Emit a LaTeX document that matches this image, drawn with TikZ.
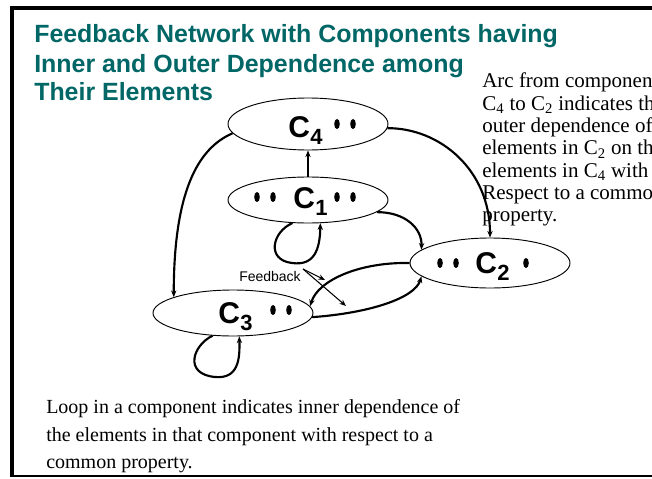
\documentclass[tikz,border=0pt]{standalone}
\usepackage{fontspec}
\setmainfont{Liberation Serif}
\setsansfont{Liberation Sans}
\usetikzlibrary{shapes.geometric,arrows.meta}
\definecolor{titlecol}{RGB}{0,102,102}
\newcommand\complabel[1]{C\kern0.3pt\raisebox{-5.5pt}{\fontsize{16.5}{16.5}\selectfont #1}}
\tikzset{
  comp/.style={ellipse, draw, line width=0.7pt, minimum width=120pt, inner sep=0pt},
  clabel/.style={anchor=base west, inner sep=0pt, font=\sffamily\bfseries\fontsize{22.5}{22.5}\selectfont},
  titleline/.style={anchor=base west, inner sep=0pt, text=titlecol, font=\sffamily\bfseries\fontsize{18.7}{18.7}\selectfont},
  noteline/.style={anchor=base west, inner sep=0pt, font=\fontsize{15.75}{15.75}\selectfont},
  bottomline/.style={anchor=base west, inner sep=0pt, font=\fontsize{15}{15}\selectfont},
  arc/.style={line width=1.6pt, -{Stealth[length=5pt,width=4pt]}},
  thinarc/.style={line width=0.8pt, -{Stealth[length=5pt,width=4pt]}},
  elemdot/.style={fill=black, draw=none},
}
\begin{document}
\begin{tikzpicture}[x=0.75pt,y=-0.75pt]
\useasboundingbox (0,0) rectangle (652,478);
\clip (0,0) rectangle (652,478);
\fill[white] (0,0) rectangle (652,478);
% frame
\draw[line width=3pt] (12,6) -- (12,477);
\draw[line width=3pt] (10,8) -- (660,8);
\draw[line width=1.5pt] (12,476) -- (660,476);

% title
\node[titleline] (t1) at (34,43) {Feedback Network with Components having};
\node[titleline] (t2) at (34,72) {Inner and Outer Dependence among};
\node[titleline] (t3) at (34,100) {Their Elements};

% note at right (cut off by the picture's right edge, as in the reference)
\node[noteline] (n1) at (482,88) {Arc from component};
\node[noteline] (n2) at (482,110.3) {C\textsubscript{4} to C\textsubscript{2} indicates the};
\node[noteline] (n3) at (482,132.6) {outer dependence of the};
\node[noteline] (n4) at (482,154.9) {elements in C\textsubscript{2} on the};
\node[noteline] (n5) at (482,177.2) {elements in C\textsubscript{4} with};
\node[noteline] (n6) at (482,199.5) {Respect to a common};
\node[noteline] (n7) at (482,221.8) {property.};

% bottom note
\node[bottomline] (b1) at (46,413) {Loop in a component indicates inner dependence of};
\node[bottomline] (b2) at (46,441) {the elements in that component with respect to a};
\node[bottomline] (b3) at (46,468) {common property.};

% components
\node[comp, minimum height=39pt] (c4) at (308,124) {};
\node[comp, minimum height=34.5pt] (c1) at (308,200) {};
\node[comp, minimum height=37.5pt] (c2) at (490,263) {};
\node[comp, minimum height=34.5pt] (c3) at (233,313) {};

\node[clabel] (l4) at (288,137) {\complabel{4}};
\node[clabel] (l1) at (293,208) {\complabel{1}};
\node[clabel] (l2) at (475,273) {\complabel{2}};
\node[clabel] (l3) at (218,323) {\complabel{3}};

% element dots
\foreach \x/\y in {337/124,353/124, 257/197,273/197,337/197,353/197, 440/263,456/263,526/263, 273/310,289/310}
  \fill[elemdot] (\x,\y) ellipse [x radius=2.1pt, y radius=3.8pt];

% connectors
\draw[arc] (c1.north) -- (c4.south);
\draw[arc] (c4.187) .. controls +(-35,15) and +(0,-105) .. (c3.165);
\draw[arc] (c4.357) .. controls (440,128) and (490,170) .. (c2.north);
\draw[arc] (c1.350) .. controls (405,212) and (422,228) .. (c2.169);
\draw[arc] (c2.west) .. controls (360,262) and (318,280) .. (c3.5);
\draw[arc] (c3.357) .. controls (370,313) and (415,298) .. (c2.191);
% loops
\draw[arc] (c1.236) .. controls (272,232) and (266,260) .. (292,263) .. controls (314,266) and (320,250) .. (c1.298);
\draw[arc] (c3.228) .. controls (193,345) and (183,374) .. (215,377) .. controls (238,379) and (240,360) .. (c3.285);

% feedback
\node[anchor=base west, inner sep=0pt, font=\sffamily\fontsize{10.5}{10.5}\selectfont] (fbl) at (239,281) {Feedback};
\coordinate (fb) at (303,269);
\coordinate (fba) at (325,280);
\coordinate (fbb) at (346,306);
\draw[thinarc] (fb) -- (fba);
\draw[thinarc] (fb) -- (fbb);
\end{tikzpicture}
\end{document}
